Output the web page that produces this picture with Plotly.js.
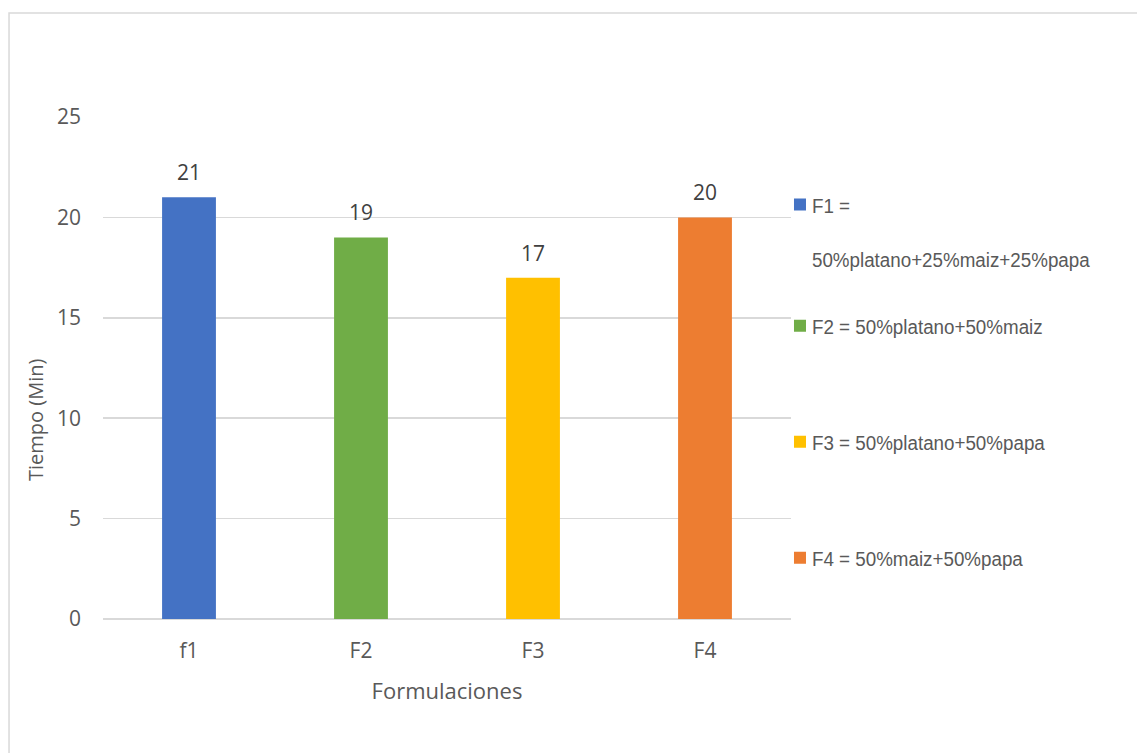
<!DOCTYPE html>
<html>
<head>
<meta charset="utf-8">
<script src="https://cdn.plot.ly/plotly-3.0.1.min.js"></script>
<style>
html,body{margin:0;padding:0;background:#fff;}
#chart{width:1137px;height:753px;}
</style>
</head>
<body>
<div id="chart"></div>
<script>
// ---- data ----
const categories = ['f1', 'F2', 'F3', 'F4'];
const values = [21, 19, 17, 20];
const seriesNames = [
  'F1 =<br> <br>50%platano+25%maiz+25%papa',
  'F2 = 50%platano+50%maiz',
  'F3 = 50%platano+50%papa',
  'F4 = 50%maiz+50%papa'
];
const yTitle = 'Tiempo (Min)';
const xTitle = 'Formulaciones';

// ---- styles ----
const colors = ['#4472C4', '#70AD47', '#FFC000', '#ED7D31'];
const legendIds = ['legend', 'legend2', 'legend3', 'legend4'];
const legendY = [0.771, 0.5837, 0.3526, 0.1215];
const textFont = 'Open Sans, Liberation Sans, sans-serif';
const legendFontFamily = 'Liberation Sans, Arial, sans-serif';
const legendCondense = 0.895;
const legendTextShift = -8;

const traces = categories.map((c, i) => ({
  type: 'bar',
  x: [c],
  y: [values[i]],
  name: seriesNames[i],
  marker: {color: colors[i]},
  legend: legendIds[i],
  hoverinfo: 'x+y'
}));

const annotations = categories.map((c, i) => ({
  x: c, y: values[i], xref: 'x', yref: 'y',
  text: String(values[i]), showarrow: false,
  yanchor: 'bottom', yshift: 9,
  font: {family: textFont, size: 21, color: '#404040'}
}));
annotations.push({
  xref: 'paper', yref: 'paper', x: -0.0988, y: 0.3964,
  text: yTitle, textangle: -90, showarrow: false,
  xanchor: 'center', yanchor: 'middle',
  font: {family: textFont, size: 20, color: '#595959'}
});

const layout = {
  width: 1137, height: 753,
  paper_bgcolor: '#fff', plot_bgcolor: '#fff',
  margin: {l: 103, r: 346, t: 117, b: 134, pad: 0, autoexpand: false},
  barmode: 'overlay',
  bargap: 0.687,
  showlegend: true,
  xaxis: {
    type: 'category',
    showgrid: false, showline: false, zeroline: false,
    ticks: '', ticklabelstandoff: 17,
    tickfont: {family: textFont, size: 21, color: '#595959'},
    title: {text: xTitle, standoff: 20, font: {family: textFont, size: 22, color: '#595959'}}
  },
  yaxis: {
    range: [0, 25], dtick: 5, tick0: 0,
    showgrid: true, gridcolor: '#d9d9d9', gridwidth: 1.5,
    zeroline: true, zerolinecolor: '#d9d9d9', zerolinewidth: 2,
    showline: false, ticks: '', ticklabelstandoff: 21,
    tickfont: {family: textFont, size: 21, color: '#595959'}
  },
  annotations: annotations,
  shapes: [{
    type: 'rect', xref: 'paper', yref: 'paper', layer: 'below',
    x0: -0.1366, x1: 1.6, y0: -0.4, y1: 1.2072,
    line: {color: '#d9d9d9', width: 1.5}, fillcolor: 'rgba(0,0,0,0)'
  }]
};

legendIds.forEach((id, i) => {
  layout[id] = {
    x: 0.984, y: legendY[i], xref: 'paper', yref: 'paper',
    xanchor: 'left', yanchor: 'middle', valign: 'top',
    bgcolor: 'rgba(0,0,0,0)', borderwidth: 0,
    font: {family: legendFontFamily, size: 21, color: '#595959'}
  };
});

// narrow the legend lettering like the original's condensed legend font
function condenseLegend() {
  document.querySelectorAll('svg text').forEach(el => {
    if (!/^F\d\s*=/.test(el.textContent.trim())) return;
    try {
      el.removeAttribute('transform');
      const x0 = el.getBBox().x;
      el.setAttribute('transform',
        'translate(' + (x0 + legendTextShift) + ',0) scale(' + legendCondense + ',1) translate(' + (-x0) + ',0)');
    } catch (e) { /* ignore */ }
  });
}

Plotly.newPlot('chart', traces, layout, {displayModeBar: false, staticPlot: true}).then(() => {
  condenseLegend();
  setTimeout(condenseLegend, 100);
  setTimeout(condenseLegend, 400);
});
</script>
</body>
</html>
